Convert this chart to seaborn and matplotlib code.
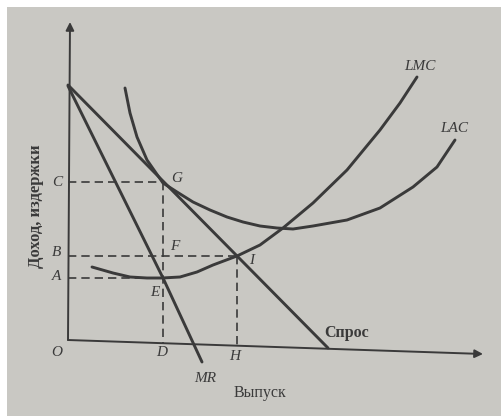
import matplotlib.pyplot as plt
import matplotlib.patches as mpatches
import seaborn as sns

sns.set_style('white')
plt.rcParams['font.family'] = ['Liberation Serif', 'DejaVu Serif']

# Кривые (выпуск, доход/издержки); начало координат в точке O
demand_q = [0, 260]
demand_p = [255, -8]

mr_q = [0, 95, 134]
mr_p = [254, 62, -22]

lac_q = [57, 62, 69, 79, 95, 109, 125, 142, 159, 175, 192, 209, 225, 245,
         279, 312, 345, 369, 387]
lac_p = [252, 227, 203, 180, 157, 148, 138, 130, 123, 118, 114, 112, 111, 114,
         120, 132, 153, 173, 200]

lmc_q = [24, 45, 62, 79, 94, 112, 129, 145, 169, 192, 215, 245, 279, 312,
         332, 349]
lmc_p = [73, 67, 63, 62, 62, 63, 68, 75, 84, 95, 112, 137, 170, 210,
         237, 263]

# Уровни и объёмы для пунктирных линий
q_D, q_H = 95, 169
p_C, p_B, p_A = 158, 84, 62

fig = plt.figure(figsize=(5.02, 4.16), dpi=100)
fig.patch.set_facecolor('white')
ax = fig.add_axes([0, 0, 1, 1])
ax.set_xlim(-68, 434)
ax.set_ylim(-76, 340)
ax.axis('off')

# фон фотографии
ax.add_patch(mpatches.Rectangle((7 / 502, 0), 495 / 502, 409 / 416,
                                transform=ax.transAxes, facecolor='#c9c8c3',
                                edgecolor='none', zorder=0))

ink = '#3a3a3a'

# оси
ax.annotate('', xy=(2, 318), xytext=(0, 0),
            arrowprops=dict(arrowstyle='-|>', color=ink, lw=1.4,
                            mutation_scale=12, shrinkA=0, shrinkB=0))
ax.annotate('', xy=(415, -14), xytext=(0, 0),
            arrowprops=dict(arrowstyle='-|>', color=ink, lw=1.4,
                            mutation_scale=12, shrinkA=0, shrinkB=0))

# кривые
for q, p in [(demand_q, demand_p), (mr_q, mr_p), (lac_q, lac_p), (lmc_q, lmc_p)]:
    sns.lineplot(x=q, y=p, sort=False, ax=ax, color=ink, linewidth=2.1,
                 estimator=None)

# пунктиры
dash = dict(color=ink, linewidth=1.2, linestyle=(0, (5, 3)))
ax.plot([0, q_D], [p_C, p_C], **dash)
ax.plot([0, q_H], [p_B, p_B], **dash)
ax.plot([0, q_D], [p_A, p_A], **dash)
ax.plot([q_D, q_D], [p_C, -3], **dash)
ax.plot([q_H, q_H], [p_B, -5], **dash)

# подписи точек
it = dict(color=ink, fontsize=11, fontstyle='italic', ha='center', va='center')
for txt, x, y in [('O', -11, -12), ('C', -11, 157), ('B', -11, 87),
                  ('A', -11, 63), ('G', 109, 162), ('F', 107, 93),
                  ('E', 87, 48), ('I', 184, 80), ('D', 94, -12),
                  ('H', 167, -17), ('MR', 137, -38),
                  ('LMC', 352, 273), ('LAC', 386, 212)]:
    ax.text(x, y, txt, **it)

ax.text(279, 7, 'Спрос', color=ink, fontsize=11.5, fontweight='bold',
        ha='center', va='center')
ax.text(192, -53, 'Выпуск', color=ink, fontsize=11.5,
        ha='center', va='center')
ax.text(-32, 134, 'Доход, издержки', color=ink, fontsize=12,
        fontweight='bold', rotation=90, ha='center', va='center')

fig.savefig('out.png', dpi=100)
